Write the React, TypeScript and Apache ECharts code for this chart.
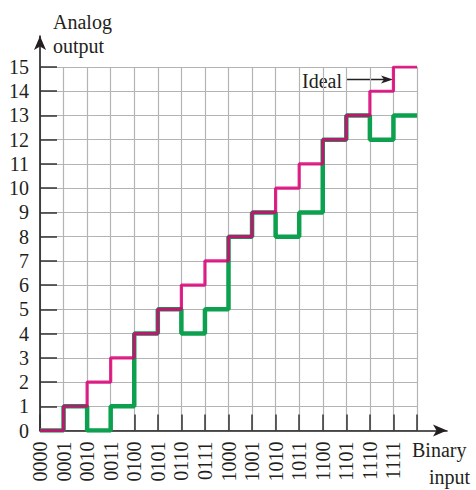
import React, { useEffect, useRef } from "react";
import * as echarts from "echarts";

const codes = ["0000","0001","0010","0011","0100","0101","0110","0111","1000","1001","1010","1011","1100","1101","1110","1111"];
const idealOutput = [0,1,2,3,4,5,6,7,8,9,10,11,12,13,14,15];
const actualOutput = [0,1,0,1,4,5,4,5,8,9,8,9,12,13,12,13];
const yTicks = [0,1,2,3,4,5,6,7,8,9,10,11,12,13,14,15];

const FONT = "'Liberation Serif', 'Times New Roman', serif";
const INK = "#231f20";

function stepPoints(vals: number[]) {
  const pts = vals.map((v, i) => [i, v]);
  pts.push([vals.length, vals[vals.length - 1]]);
  return pts;
}

export default function App() {
  const ref = useRef<HTMLDivElement>(null);
  useEffect(() => {
    document.body.style.margin = "0";
    const chart = echarts.init(ref.current!, undefined, { renderer: "svg" });
    const L = 40, T = 67, W = 377, H = 363.5;
    chart.setOption({
      animation: false,
      backgroundColor: "#ffffff",
      grid: [
        { left: L, top: T, width: W, height: H },
        { left: L, top: 36, width: 407, height: T + H - 36 },
      ],
      xAxis: [
        {
          type: "value", gridIndex: 0, min: 0, max: 16, interval: 1,
          axisLine: { show: false },
          axisTick: { show: true, inside: true, length: 16, lineStyle: { color: "#333", width: 1.5 } },
          splitLine: { show: true, lineStyle: { color: "#b4b4b4", width: 1.2 } },
          axisLabel: {
            rotate: 90, margin: 11, fontSize: 20, fontFamily: FONT, color: INK,
            formatter: (v: number) => (v < codes.length ? codes[v] : ""),
          },
        },
        {
          type: "value", gridIndex: 1, min: 0, max: 1,
          axisLine: { show: true, symbol: ["none", "arrow"], symbolSize: [9, 14], lineStyle: { color: INK, width: 1.6 } },
          axisTick: { show: false }, axisLabel: { show: false }, splitLine: { show: false },
        },
      ],
      yAxis: [
        {
          type: "value", gridIndex: 0, min: 0, max: 15, interval: 1,
          axisLine: { show: false },
          axisTick: { show: true, inside: true, length: 17, lineStyle: { color: "#333", width: 1.5 } },
          splitLine: { show: true, lineStyle: { color: "#b4b4b4", width: 1.2 } },
          axisLabel: {
            margin: 11, fontSize: 20, fontFamily: FONT, color: INK, padding: [8, 0, 0, 0],
            formatter: (v: number) => (yTicks.indexOf(v) >= 0 ? String(v) : ""),
          },
        },
        {
          type: "value", gridIndex: 1, min: 0, max: 1,
          axisLine: { show: true, symbol: ["none", "arrow"], symbolSize: [9, 14], lineStyle: { color: INK, width: 1.6 } },
          axisTick: { show: false }, axisLabel: { show: false }, splitLine: { show: false },
        },
      ],
      series: [
        {
          name: "Actual", type: "line", step: "end", xAxisIndex: 0, yAxisIndex: 0,
          data: stepPoints(actualOutput), showSymbol: false, symbol: "none",
          lineStyle: { color: "#0ca04f", width: 4.5 }, z: 3,
        },
        {
          name: "Ideal", type: "line", step: "end", xAxisIndex: 0, yAxisIndex: 0,
          data: stepPoints(idealOutput), showSymbol: false, symbol: "none",
          lineStyle: { color: "#db0076", width: 3.2, opacity: 0.85 }, z: 4,
        },
      ],
      graphic: [
        { type: "text", left: 53, top: 12, style: { text: "Analog", font: `20px ${FONT}`, fill: INK } },
        { type: "text", left: 53, top: 36, style: { text: "output", font: `20px ${FONT}`, fill: INK } },
        { type: "text", left: 412, top: 440, style: { text: "Binary", font: `20px ${FONT}`, fill: INK } },
        { type: "text", right: 6, top: 467, style: { text: "input", font: `20px ${FONT}`, fill: INK, textAlign: "right" } },
        { type: "text", left: 302, top: 71, style: { text: "Ideal", font: `20px ${FONT}`, fill: INK } },
        { type: "line", shape: { x1: 347, y1: 79.5, x2: 384, y2: 79.5 }, style: { stroke: INK, lineWidth: 1.3 } },
        { type: "polygon", shape: { points: [[393, 79.5], [381, 75.5], [384, 79.5], [381, 83.5]] }, style: { fill: INK } },
      ],
    });
    return () => chart.dispose();
  }, []);
  return <div ref={ref} style={{ width: 476, height: 490 }} />;
}
